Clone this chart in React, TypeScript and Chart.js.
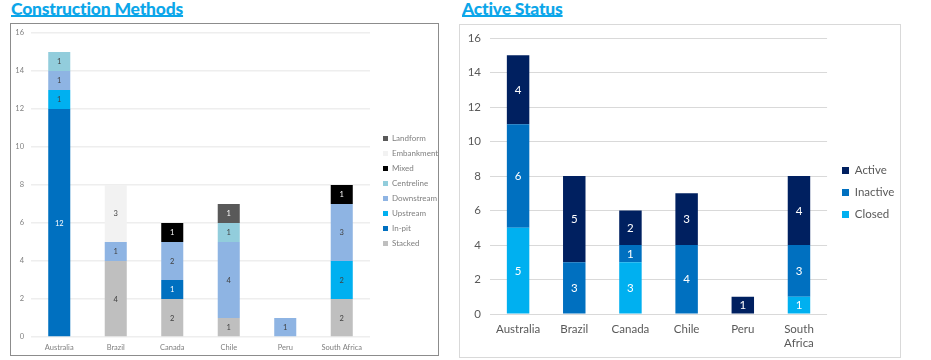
import React, { useEffect, useRef } from "react";
import { Chart, registerables } from "chart.js";
Chart.register(...registerables);

// ---------- data ----------
const countries = ["Australia", "Brazil", "Canada", "Chile", "Peru", "South Africa"];
const countriesWrapped: (string | string[])[] = ["Australia", "Brazil", "Canada", "Chile", "Peru", ["South", "Africa"]];

// Construction methods (stack order bottom -> top)
const stacked = [0, 4, 2, 1, 0, 2];
const inPit = [12, 0, 1, 0, 0, 0];
const upstream = [1, 0, 0, 0, 0, 2];
const downstream = [1, 1, 2, 4, 1, 3];
const centreline = [1, 0, 0, 1, 0, 0];
const mixed = [0, 0, 1, 0, 0, 1];
const embankment = [0, 3, 0, 0, 0, 0];
const landform = [0, 0, 0, 1, 0, 0];

// Active status (stack order bottom -> top)
const closed = [5, 0, 3, 0, 0, 1];
const inactive = [6, 3, 1, 4, 0, 3];
const active = [4, 5, 2, 3, 1, 4];

const yMin = 0;
const yMax = 16;
const yStep = 2;

const FONT = "Lato";

// ---------- plugins ----------
const valueLabels = {
  id: "valueLabels",
  afterDatasetsDraw(chart: any, _args: any, opts: any) {
    const ctx = chart.ctx;
    ctx.save();
    ctx.font = opts.font || `10px ${FONT}`;
    ctx.textAlign = "center";
    ctx.textBaseline = "middle";
    chart.data.datasets.forEach((ds: any, i: number) => {
      const meta = chart.getDatasetMeta(i);
      if (meta.hidden) return;
      meta.data.forEach((el: any, j: number) => {
        const v = ds.data[j];
        if (!v) return;
        const p = el.getProps(["x", "y", "base"], true);
        ctx.fillStyle = ds.labelColor || "#404040";
        ctx.fillText(String(v), p.x, (p.y + p.base) / 2 + 0.5);
      });
    });
    ctx.restore();
  },
};

const legendShift = {
  id: "legendShift",
  afterLayout(chart: any, _args: any, opts: any) {
    const l = chart.legend;
    if (!l) return;
    if (opts.left != null) {
      const w = l.right - l.left;
      l.left = opts.left;
      l.right = opts.left + w;
    }
    if (opts.dy) {
      l.top += opts.dy;
      l.bottom += opts.dy;
    }
  },
};

// ---------- chart component ----------
function ChartCanvas({ width, height, config }: { width: number; height: number; config: () => any }) {
  const ref = useRef<HTMLCanvasElement | null>(null);
  useEffect(() => {
    if (!ref.current) return;
    const chart = new Chart(ref.current, config());
    return () => chart.destroy();
  }, []);
  return <canvas ref={ref} width={width} height={height} style={{ display: "block", width, height }} />;
}

function constructionConfig() {
  const mk = (label: string, data: number[], color: string, labelColor: string) => ({
    label,
    data,
    backgroundColor: color,
    borderWidth: 0,
    labelColor,
  });
  return {
    type: "bar",
    data: {
      labels: countries,
      datasets: [
        mk("Stacked", stacked, "#BFBFBF", "#404040"),
        mk("In-pit", inPit, "#0070C0", "#FFFFFF"),
        mk("Upstream", upstream, "#00B0F0", "#404040"),
        mk("Downstream", downstream, "#8EB4E3", "#404040"),
        mk("Centreline", centreline, "#92CDDC", "#404040"),
        mk("Mixed", mixed, "#000000", "#FFFFFF"),
        mk("Embankment", embankment, "#F2F2F2", "#404040"),
        mk("Landform", landform, "#595959", "#FFFFFF"),
      ],
    },
    options: {
      responsive: false,
      animation: false,
      layout: { padding: { left: 0, top: 9, right: 0, bottom: 0 } },
      datasets: { bar: { categoryPercentage: 1, barPercentage: 0.39 } },
      scales: {
        x: {
          stacked: true,
          grid: { display: false, drawTicks: false },
          border: { display: false },
          ticks: { color: "#808080", font: { size: 7.5, family: FONT }, padding: 6, maxRotation: 0 },
          afterFit: (s: any) => { s.height = 18; },
        },
        y: {
          stacked: true,
          min: yMin,
          max: yMax,
          ticks: { stepSize: yStep, color: "#808080", font: { size: 7.5, family: FONT }, padding: 7 },
          grid: { color: "#EEEEEE", lineWidth: 1.5, drawTicks: false },
          border: { display: false },
          afterFit: (s: any) => { s.width = 20; s.paddingTop = 0; s.paddingBottom = 0; },
        },
      },
      plugins: {
        legend: {
          position: "right",
          reverse: true,
          maxWidth: 68,
          labels: { boxWidth: 5, boxHeight: 5, padding: 7, color: "#808080", font: { size: 8, family: FONT } },
        },
        tooltip: { enabled: false },
        legendShift: { left: 365, dy: -3 },
        valueLabels: { font: `7.5px ${FONT}` },
      },
    },
    plugins: [valueLabels, legendShift],
  };
}

function statusConfig() {
  const mk = (label: string, data: number[], color: string) => ({
    label,
    data,
    backgroundColor: color,
    borderWidth: 0,
    labelColor: "#FFFFFF",
  });
  return {
    type: "bar",
    data: {
      labels: countriesWrapped,
      datasets: [
        mk("Closed", closed, "#00B0F0"),
        mk("Inactive", inactive, "#0070C0"),
        mk("Active", active, "#002060"),
      ],
    },
    options: {
      responsive: false,
      animation: false,
      layout: { padding: { left: 0, top: 13, right: 0, bottom: 0 } },
      datasets: { bar: { categoryPercentage: 1, barPercentage: 0.4 } },
      scales: {
        x: {
          stacked: true,
          grid: { display: false, drawTicks: false },
          border: { display: false },
          ticks: { color: "#595959", font: { size: 11.5, family: FONT, lineHeight: 1.15 }, padding: 9, maxRotation: 0 },
          afterFit: (s: any) => { s.height = 43; },
        },
        y: {
          stacked: true,
          min: yMin,
          max: yMax,
          ticks: { stepSize: yStep, color: "#595959", font: { size: 11.5, family: FONT }, padding: 9 },
          grid: { color: "#D9D9D9", lineWidth: 1, drawTicks: false },
          border: { display: false },
          afterFit: (s: any) => { s.width = 30; s.paddingTop = 0; s.paddingBottom = 0; },
        },
      },
      plugins: {
        legend: {
          position: "right",
          reverse: true,
          maxWidth: 78,
          labels: { boxWidth: 7, boxHeight: 7, padding: 10.5, color: "#595959", font: { size: 11.5, family: FONT } },
        },
        tooltip: { enabled: false },
        legendShift: { left: 371.5, dy: -5 },
        valueLabels: { font: `11.5px ${FONT}` },
      },
    },
    plugins: [valueLabels, legendShift],
  };
}

const titleStyle: React.CSSProperties = {
  position: "absolute",
  fontFamily: FONT,
  fontWeight: 900,
  fontSize: 17.5,
  lineHeight: "20px",
  color: "#0CA6E9",
  textDecoration: "underline",
  textDecorationThickness: "1.5px",
  textUnderlineOffset: "0px",
  whiteSpace: "nowrap",
  letterSpacing: "-0.2px",
};

export default function App() {
  return (
    <div style={{ position: "absolute", left: 0, top: 0, width: 931, height: 360, background: "#FFFFFF", overflow: "hidden" }}>
      <div style={{ ...titleStyle, left: 11, top: -1 }}>Construction Methods</div>
      <div
        style={{
          position: "absolute",
          left: 10,
          top: 23,
          width: 429,
          height: 333,
          border: "1px solid #8C8C8C",
          boxSizing: "border-box",
        }}
      >
        <ChartCanvas width={427} height={331} config={constructionConfig} />
      </div>

      <div style={{ ...titleStyle, left: 462, top: -1 }}>Active Status</div>
      <div
        style={{
          position: "absolute",
          left: 459,
          top: 24,
          width: 442,
          height: 334,
          border: "1px solid #D9D9D9",
          boxSizing: "border-box",
        }}
      >
        <ChartCanvas width={440} height={332} config={statusConfig} />
      </div>
    </div>
  );
}
